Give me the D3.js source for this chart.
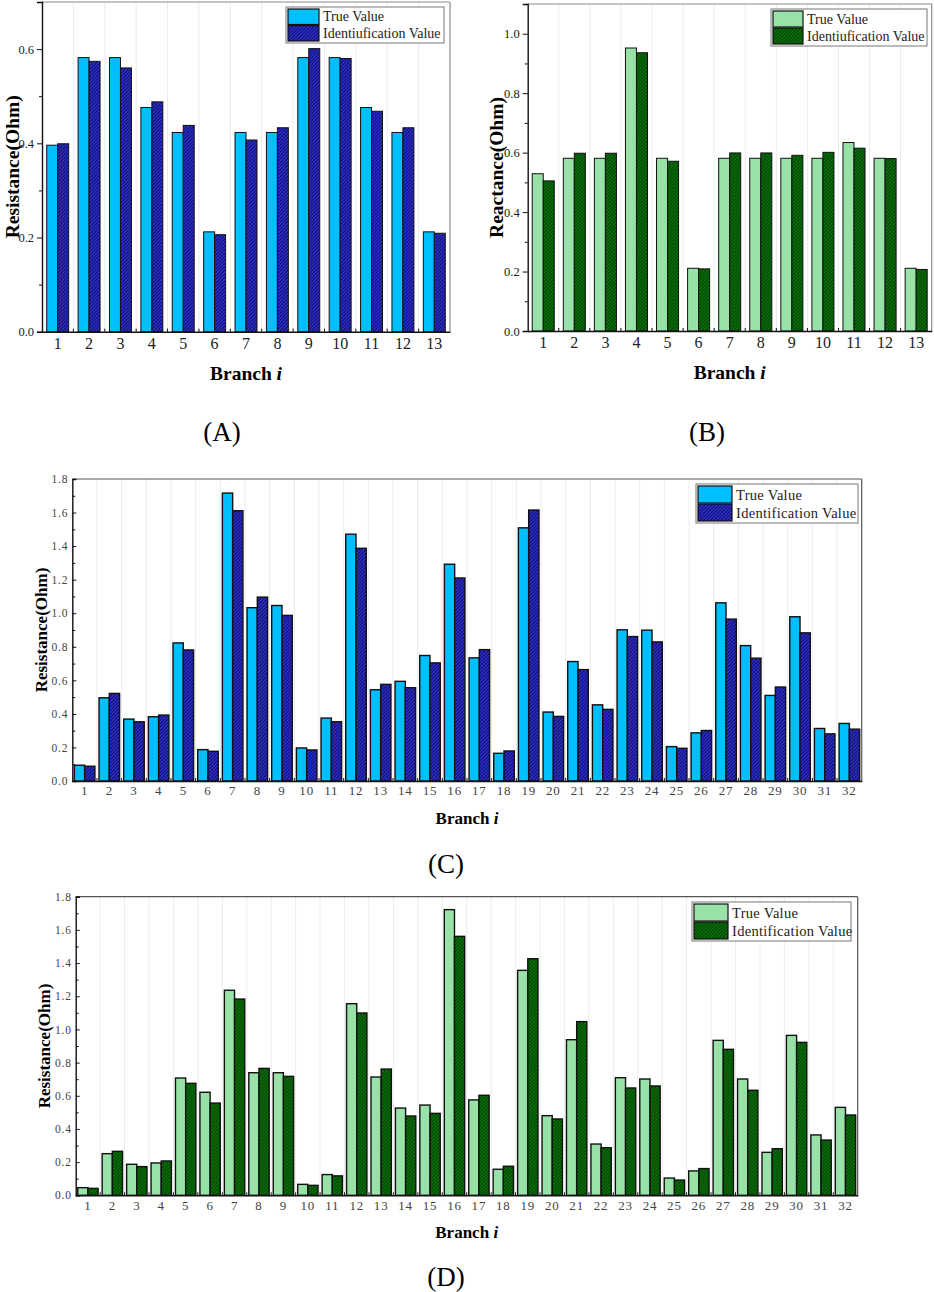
<!DOCTYPE html>
<html>
<head>
<meta charset="utf-8">
<script src="https://cdn.jsdelivr.net/npm/d3@7/dist/d3.min.js"></script>
<style>
body{margin:0;background:#fff}
</style>
</head>
<body>
<svg id="canvas" width="934" height="1292"></svg>
<script>
// categories
let branches13 = ["1","2","3","4","5","6","7","8","9","10","11","12","13"]
let branches32 = ["1","2","3","4","5","6","7","8","9","10","11","12","13","14","15","16",
                  "17","18","19","20","21","22","23","24","25","26","27","28","29","30","31","32"]

// (A) resistance, 13 branches
let trueA  = [0.396,0.582,0.582,0.476,0.423,0.212,0.423,0.423,0.582,0.582,0.476,0.423,0.212]
let identA = [0.399,0.574,0.560,0.488,0.438,0.206,0.407,0.433,0.601,0.580,0.468,0.433,0.209]

// (B) reactance, 13 branches
let trueB  = [0.529,0.581,0.581,0.952,0.581,0.211,0.581,0.581,0.581,0.581,0.634,0.581,0.211]
let identB = [0.505,0.598,0.598,0.936,0.571,0.209,0.599,0.599,0.591,0.601,0.615,0.580,0.207]

// (C) resistance, 32 branches
let trueC  = [0.094,0.496,0.369,0.383,0.823,0.187,1.716,1.033,1.046,0.197,0.375,1.471,0.544,0.594,0.748,1.292,
              0.734,0.165,1.509,0.411,0.712,0.454,0.901,0.899,0.205,0.287,1.062,0.807,0.510,0.979,0.313,0.343]
let identC = [0.088,0.522,0.353,0.393,0.781,0.177,1.611,1.096,0.987,0.185,0.353,1.387,0.576,0.556,0.704,1.210,
              0.783,0.179,1.615,0.385,0.664,0.427,0.861,0.829,0.195,0.301,0.965,0.732,0.560,0.883,0.281,0.309]

// (D) resistance, 32 branches
let trueD  = [0.046,0.251,0.187,0.195,0.707,0.621,1.236,0.739,0.739,0.066,0.125,1.155,0.713,0.526,0.544,1.722,
              0.575,0.157,1.356,0.480,0.938,0.309,0.709,0.701,0.104,0.147,0.934,0.701,0.259,0.964,0.364,0.530]
let identD = [0.042,0.265,0.173,0.207,0.675,0.556,1.183,0.765,0.717,0.060,0.117,1.099,0.761,0.478,0.494,1.561,
              0.603,0.175,1.426,0.460,1.047,0.287,0.647,0.659,0.092,0.161,0.880,0.633,0.281,0.922,0.333,0.484]

// tick values
let ticksA = [0.0,0.2,0.4,0.6]
let minorA = [0.1,0.3,0.5]
let ticksB = [0.0,0.2,0.4,0.6,0.8,1.0]
let minorB = [0.1,0.3,0.5,0.7,0.9]
let ticksCD = [0.0,0.2,0.4,0.6,0.8,1.0,1.2,1.4,1.6,1.8]
let minorCD = [0.1,0.3,0.5,0.7,0.9,1.1,1.3,1.5,1.7]

let serif = "'Liberation Serif','Times New Roman',serif"
let svg = d3.select('#canvas')
let defs = svg.append('defs')

let makeHatch = (id, bg, line) => {
    let p = defs.append('pattern')
        .attr('id', id)
        .attr('patternUnits', 'userSpaceOnUse')
        .attr('width', 3.5)
        .attr('height', 3.5)
    p.append('rect').attr('width', 3.5).attr('height', 3.5).attr('fill', bg)
    p.append('path')
        .attr('d', 'M-1,1 l2,-2 M0,3.5 l3.5,-3.5 M2.5,4.5 l2,-2')
        .attr('stroke', line)
        .attr('stroke-width', 0.9)
}
makeHatch('hatchBlue', '#0a0a86', '#4848d8')
makeHatch('hatchGreen', '#0b7a0b', '#002a00')

let drawPanel = (p) => {
    let g = svg.append('g')

    let x = d3.scaleBand().domain(p.cats).range([p.left, p.right])
    let inner = d3.scaleBand().domain([0, 1]).range([0, x.bandwidth()]).paddingOuter(p.pad)
    let y = d3.scaleLinear().domain([0, p.ymax]).range([p.bottom, p.top])

    // faint vertical separators between categories
    g.selectAll('line.sep')
     .data(p.cats.slice(1))
     .enter()
     .append('line')
     .attr('class', 'sep')
     .attr('x1', d => x(d)).attr('x2', d => x(d))
     .attr('y1', p.top).attr('y2', p.bottom)
     .attr('stroke', '#ececec')
     .attr('stroke-width', 1)

    // bars
    let series = [p.trueVals, p.identVals]
    let fills = [p.trueFill, p.identFill]
    series.forEach((vals, s) => {
        g.selectAll('rect.s' + s)
         .data(vals)
         .enter()
         .append('rect')
         .attr('class', 's' + s)
         .attr('x', (d, i) => x(p.cats[i]) + inner(s))
         .attr('width', inner.bandwidth())
         .attr('y', d => y(d))
         .attr('height', d => y(0) - y(d))
         .attr('fill', fills[s])
         .attr('stroke', '#111')
         .attr('stroke-width', p.barStroke)
    })

    // top / right frame
    g.append('line').attr('x1', p.left).attr('x2', p.right).attr('y1', p.top).attr('y2', p.top)
     .attr('stroke', p.frameColor).attr('stroke-width', 1.2)
    g.append('line').attr('x1', p.right).attr('x2', p.right).attr('y1', p.top).attr('y2', p.bottom)
     .attr('stroke', p.frameColor).attr('stroke-width', 1.2)

    // x axis
    let xAxis = g.append('g')
        .attr('transform', `translate(0,${p.bottom})`)
        .call(d3.axisBottom(x).tickSize(0).tickPadding(p.xTickPad))
    xAxis.select('.domain').attr('stroke', '#111').attr('stroke-width', 1.4)
    xAxis.selectAll('text')
        .attr('font-family', serif)
        .attr('font-size', p.xTickSize)
        .attr('fill', p.tickColor)
        .attr('letter-spacing', p.tickSpacing)

    // minor x ticks at the category boundaries, pointing inward
    g.selectAll('line.xminor')
     .data(p.cats.slice(1))
     .enter()
     .append('line')
     .attr('class', 'xminor')
     .attr('x1', d => x(d)).attr('x2', d => x(d))
     .attr('y1', p.bottom).attr('y2', p.bottom - 3)
     .attr('stroke', '#111')

    // y axis
    let yAxis = g.append('g')
        .attr('transform', `translate(${p.left},0)`)
        .call(d3.axisLeft(y).tickValues(p.ticks).tickFormat(d3.format('.1f'))
                .tickSize(p.yTick).tickPadding(p.yTickPad))
    yAxis.select('.domain').attr('stroke', '#111').attr('stroke-width', 1.4)
    yAxis.selectAll('.tick line').attr('stroke', '#111')
    yAxis.selectAll('text')
        .attr('font-family', serif)
        .attr('font-size', p.yTickSize)
        .attr('fill', p.tickColor)
        .attr('letter-spacing', p.tickSpacing)

    let yMinor = g.append('g')
        .attr('transform', `translate(${p.left},0)`)
        .call(d3.axisLeft(y).tickValues(p.minor).tickFormat('').tickSize(p.yTick > 0 ? 3 : -3))
    yMinor.select('.domain').remove()
    yMinor.selectAll('.tick line').attr('stroke', '#111')

    // axis titles
    g.append('text')
     .attr('transform', `translate(${p.yLabelX},${(p.top + p.bottom) / 2}) rotate(-90)`)
     .attr('text-anchor', 'middle')
     .attr('dominant-baseline', 'central')
     .attr('font-family', serif)
     .attr('font-weight', 'bold')
     .attr('font-size', p.titleSize)
     .text(p.yLabel)

    let xt = g.append('text')
     .attr('x', (p.left + p.right) / 2)
     .attr('y', p.xLabelY)
     .attr('text-anchor', 'middle')
     .attr('font-family', serif)
     .attr('font-weight', 'bold')
     .attr('font-size', p.titleSize)
    xt.append('tspan').text('Branch ')
    xt.append('tspan').attr('font-style', 'italic').text('i')

    // legend
    let lg = g.append('g').attr('transform', `translate(${p.legX},${p.legY})`)
    lg.append('rect')
      .attr('width', p.legW).attr('height', p.legH)
      .attr('fill', '#fff')
      .attr('stroke', '#777')
      .attr('stroke-width', 1)
    let swH = (p.legH - 5) / 2
    p.legNames.forEach((name, k) => {
        lg.append('rect')
          .attr('x', 2).attr('y', 2 + k * (swH + 1))
          .attr('width', p.swW).attr('height', swH)
          .attr('fill', fills[k])
          .attr('stroke', '#111')
          .attr('stroke-width', 1.2)
        lg.append('text')
          .attr('x', p.swW + 6)
          .attr('y', 2 + k * (swH + 1) + swH / 2)
          .attr('dominant-baseline', 'central')
          .attr('font-family', serif)
          .attr('font-size', p.legSize)
          .attr('letter-spacing', p.legSpacing)
          .attr('fill', '#222')
          .text(name)
    })

    // panel tag
    svg.append('text')
       .attr('x', p.tagX)
       .attr('y', p.tagY)
       .attr('text-anchor', 'middle')
       .attr('font-family', serif)
       .attr('font-size', 27)
       .text(p.tag)
}

drawPanel({
    cats: branches13, trueVals: trueA, identVals: identA,
    left: 42, right: 450, top: 2, bottom: 331.7, ymax: 0.7, pad: 0.43,
    ticks: ticksA, minor: minorA, yTick: 5, yTickPad: 3,
    trueFill: '#00bfff', identFill: 'url(#hatchBlue)', barStroke: 1,
    frameColor: '#8a8a8a', tickColor: '#222', tickSpacing: 0,
    xTickSize: 16, yTickSize: 12.5, xTickPad: 6,
    yLabel: 'Resistance(Ohm)', yLabelX: 12, xLabelY: 380, titleSize: 19.5,
    legX: 286, legY: 7, legW: 158, legH: 36, swW: 31, legSize: 14, legSpacing: 0,
    legNames: ['True Value', 'Identiufication Value'],
    tag: '(A)', tagX: 222, tagY: 441
})

drawPanel({
    cats: branches13, trueVals: trueB, identVals: identB,
    left: 527.7, right: 931.7, top: 4, bottom: 331, ymax: 1.1, pad: 0.41,
    ticks: ticksB, minor: minorB, yTick: 5, yTickPad: 3,
    trueFill: '#98e2a8', identFill: 'url(#hatchGreen)', barStroke: 1,
    frameColor: '#8a8a8a', tickColor: '#222', tickSpacing: 0,
    xTickSize: 16, yTickSize: 12.5, xTickPad: 6,
    yLabel: 'Reactance(Ohm)', yLabelX: 496, xLabelY: 379, titleSize: 19.5,
    legX: 771, legY: 9, legW: 156, legH: 37, swW: 30, legSize: 14, legSpacing: 0,
    legNames: ['True Value', 'Identiufication Value'],
    tag: '(B)', tagX: 707, tagY: 441
})

drawPanel({
    cats: branches32, trueVals: trueC, identVals: identC,
    left: 72.3, right: 861.7, top: 479, bottom: 781, ymax: 1.8, pad: 0.2,
    ticks: ticksCD, minor: minorCD, yTick: -4, yTickPad: 4,
    trueFill: '#00bfff', identFill: 'url(#hatchBlue)', barStroke: 1.4,
    frameColor: '#555', tickColor: '#444', tickSpacing: 0.8,
    xTickSize: 13, yTickSize: 11.5, xTickPad: 5,
    yLabel: 'Resistance(Ohm)', yLabelX: 41, xLabelY: 824, titleSize: 17,
    legX: 696, legY: 484, legW: 162, legH: 39, swW: 34, legSize: 14.5, legSpacing: 0.3,
    legNames: ['True Value', 'Identification Value'],
    tag: '(C)', tagX: 446, tagY: 873
})

drawPanel({
    cats: branches32, trueVals: trueD, identVals: identD,
    left: 75.7, right: 857.7, top: 896.7, bottom: 1195.3, ymax: 1.8, pad: 0.2,
    ticks: ticksCD, minor: minorCD, yTick: -4, yTickPad: 4,
    trueFill: '#98e2a8', identFill: 'url(#hatchGreen)', barStroke: 1.4,
    frameColor: '#555', tickColor: '#444', tickSpacing: 0.8,
    xTickSize: 13, yTickSize: 11.5, xTickPad: 5,
    yLabel: 'Resistance(Ohm)', yLabelX: 44, xLabelY: 1238, titleSize: 17,
    legX: 692, legY: 902, legW: 159, legH: 39, swW: 34, legSize: 14.5, legSpacing: 0.3,
    legNames: ['True Value', 'Identification Value'],
    tag: '(D)', tagX: 446, tagY: 1286
})
</script>
</body>
</html>
